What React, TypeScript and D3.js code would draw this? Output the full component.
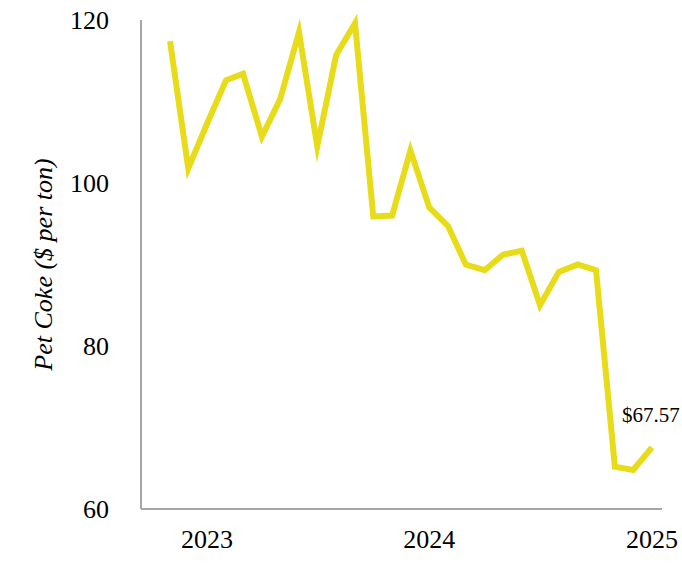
import React from "react";
import * as d3 from "d3";

const months: string[] = [
  "2022-11", "2022-12",
  "2023-01", "2023-02", "2023-03", "2023-04", "2023-05", "2023-06",
  "2023-07", "2023-08", "2023-09", "2023-10", "2023-11", "2023-12",
  "2024-01", "2024-02", "2024-03", "2024-04", "2024-05", "2024-06",
  "2024-07", "2024-08", "2024-09", "2024-10", "2024-11", "2024-12",
  "2025-01",
];
const prices: number[] = [
  117.4, 101.8, 107.3, 112.6, 113.4, 105.7, 110.3, 118.5, 104.5, 115.7, 119.6,
  95.9, 96.0, 104.0, 97.0, 94.7, 90.0, 89.3, 91.2, 91.7, 85.0, 89.1, 90.0,
  89.3, 65.2, 64.8, 67.57,
];
const yTicks: number[] = [60, 80, 100, 120];
const xTickLabels: string[] = ["2023", "2024", "2025"];
const yTitle = "Pet Coke ($ per ton)";
const lastLabel = "$67.57";

const W = 682;
const H = 576;
const FONT = "'Liberation Serif', 'Times New Roman', serif";

export default function App() {
  const parse = d3.timeParse("%Y-%m");
  const dates = months.map((m) => parse(m) as Date);
  const x = d3
    .scaleTime()
    .domain([dates[0], dates[dates.length - 1]])
    .range([170, 652]);
  const y = d3.scaleLinear().domain([60, 120]).range([509, 20]);
  const data = dates.map((d, i) => ({ d, v: prices[i] }));
  const line = d3
    .line<{ d: Date; v: number }>()
    .x((p) => x(p.d))
    .y((p) => y(p.v));
  const last = data[data.length - 1];
  const axisX = 141;
  const axisRight = 662;

  return (
    <svg
      width={W}
      height={H}
      style={{ position: "absolute", left: 0, top: 0, display: "block", background: "#fff" }}
      fontFamily={FONT}
    >
      <line x1={axisX} x2={axisX} y1={y(120)} y2={y(60)} stroke="#a6a6a6" strokeWidth={2} />
      <line x1={axisX} x2={axisRight} y1={y(60)} y2={y(60)} stroke="#a6a6a6" strokeWidth={2} />
      {yTicks.map((t) => (
        <text
          key={t}
          x={109}
          y={y(t)}
          dy="0.33em"
          textAnchor="end"
          fontSize={26}
          fill="#000"
        >
          {t}
        </text>
      ))}
      {xTickLabels.map((l) => (
        <text
          key={l}
          x={x(parse(l + "-01") as Date)}
          y={548}
          textAnchor="middle"
          fontSize={26}
          fill="#000"
        >
          {l}
        </text>
      ))}
      <text
        transform={`translate(52, ${(y(60) + y(120)) / 2}) rotate(-90)`}
        textAnchor="middle"
        fontSize={26}
        fontStyle="italic"
        fill="#000"
      >
        {yTitle}
      </text>
      <path
        d={line(data) || ""}
        fill="none"
        stroke="#E8DC1A"
        strokeWidth={6}
        strokeLinejoin="miter"
        strokeMiterlimit={10}
      />
      <text x={x(last.d) - 30} y={422} fontSize={21} fill="#000">
        {lastLabel}
      </text>
    </svg>
  );
}
